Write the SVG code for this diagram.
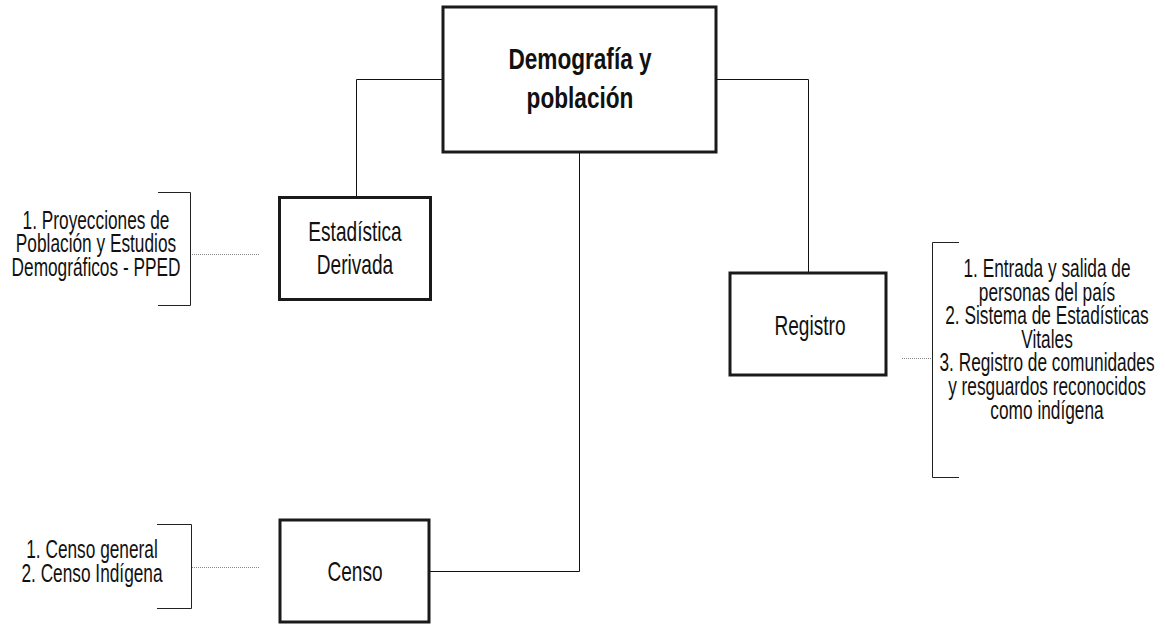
<svg xmlns="http://www.w3.org/2000/svg" width="1165" height="624" viewBox="0 0 1165 624">
<style>
.box{fill:#fff;stroke:#1a1a1a;stroke-width:3}
.conn{fill:none;stroke:#111;stroke-width:1}
.dot{fill:none;stroke:#888;stroke-width:1;stroke-dasharray:1 1}
.brk{fill:none;stroke:#222;stroke-width:1}
.t{font-family:"Liberation Sans",Arial,sans-serif;fill:#111;text-anchor:middle}
.list{font-size:24px}
.lbl{font-size:26.5px}
.title{font-size:29px;font-weight:bold}
</style>
<rect width="1165" height="624" fill="#fff"/>
<g id="connectors">
<path class="conn" d="M442,79.5 H356.5 V196"/>
<path class="conn" d="M717,79.5 H808.5 V272"/>
<path class="conn" d="M579.5,153 V571.5 H430"/>
<path class="dot" d="M192,254.5 H260"/>
<path class="dot" d="M192,567.5 H260"/>
<path class="dot" d="M902,358.5 H931"/>
</g>
<g id="node-demografia">
<rect class="box" x="443" y="7" width="273" height="145"/>
<text class="t title" transform="translate(580 69) scale(0.78 1.04)"><tspan x="0" y="0">Demografía y</tspan><tspan x="0" y="37.5">población</tspan></text>
</g>
<g id="node-estadistica">
<rect class="box" x="279.5" y="197.5" width="151" height="102"/>
<text class="t lbl" transform="translate(355 241) scale(0.72 1.05)"><tspan x="0" y="0">Estadística</tspan><tspan x="0" y="31.5">Derivada</tspan></text>
</g>
<g id="node-registro">
<rect class="box" x="730" y="273" width="156" height="102"/>
<text class="t lbl" transform="translate(810 335) scale(0.72 1.05)"><tspan x="0" y="0">Registro</tspan></text>
</g>
<g id="node-censo">
<rect class="box" x="280" y="520" width="149" height="102"/>
<text class="t lbl" transform="translate(355 581) scale(0.72 1.05)"><tspan x="0" y="0">Censo</tspan></text>
</g>
<g id="note-estadistica">
<path class="brk" d="M158,192.5 H190.5 V305.5 H158"/>
<text class="t list" transform="translate(96 229) scale(0.72 1.04)"><tspan x="0" y="0">1. Proyecciones de</tspan><tspan x="0" y="22.6">Población y Estudios</tspan><tspan x="0" y="45.2">Demográficos - PPED</tspan></text>
</g>
<g id="note-censo">
<path class="brk" d="M157,524.5 H191.5 V608.5 H157"/>
<text class="t list" transform="translate(92 558) scale(0.72 1.04)"><tspan x="0" y="0">1. Censo general</tspan><tspan x="0" y="23">2. Censo Indígena</tspan></text>
</g>
<g id="note-registro">
<path class="brk" d="M959,242.5 H932.5 V477.5 H959"/>
<text class="t list" transform="translate(1047 277) scale(0.72 1.04)"><tspan x="0" y="0">1. Entrada y salida de</tspan><tspan x="0" y="22.7">personas del país</tspan><tspan x="0" y="45.4">2. Sistema de Estadísticas</tspan><tspan x="0" y="68.1">Vitales</tspan><tspan x="0" y="90.8">3. Registro de comunidades</tspan><tspan x="0" y="113.5">y resguardos reconocidos</tspan><tspan x="0" y="136.2">como indígena</tspan></text>
</g>
</svg>
